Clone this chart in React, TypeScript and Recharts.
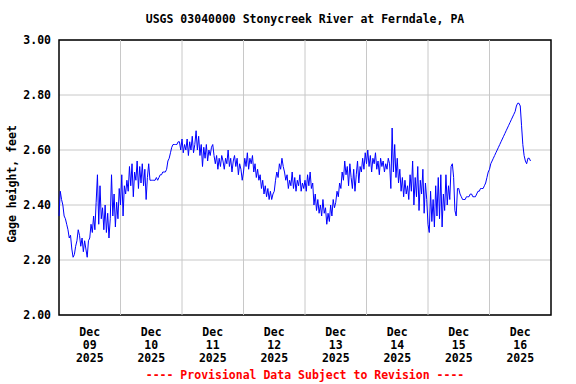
import { LineChart, Line, XAxis, YAxis, CartesianGrid, ReferenceLine, ReferenceArea } from 'recharts'

// gage height (ft), 30-minute readings starting Dec 09 00:00
const gage = [
  2.36, 2.45, 2.42, 2.40, 2.36, 2.35, 2.33, 2.31, 2.28, 2.29, 2.24, 2.21, 2.22, 2.25, 2.27, 2.31, 2.29, 2.25, 2.28, 2.23, 2.27, 2.24, 2.21, 2.27,
  2.28, 2.33, 2.30, 2.36, 2.31, 2.41, 2.51, 2.33, 2.47, 2.35, 2.39, 2.31, 2.40, 2.30, 2.37, 2.28, 2.35, 2.51, 2.36, 2.44, 2.32, 2.41, 2.35, 2.46,
  2.40, 2.51, 2.36, 2.47, 2.44, 2.49, 2.45, 2.54, 2.47, 2.55, 2.43, 2.52, 2.49, 2.56, 2.46, 2.54, 2.48, 2.55, 2.47, 2.53, 2.42, 2.50, 2.55, 2.49,
  2.49, 2.49, 2.49, 2.49, 2.50, 2.49, 2.50, 2.51, 2.51, 2.52, 2.52, 2.52, 2.53, 2.56, 2.57, 2.59, 2.61, 2.62, 2.62, 2.62, 2.62, 2.63, 2.63, 2.60,
  2.64, 2.59, 2.62, 2.60, 2.64, 2.58, 2.63, 2.60, 2.65, 2.59, 2.62, 2.67, 2.60, 2.65, 2.58, 2.62, 2.54, 2.61, 2.57, 2.62, 2.56, 2.60, 2.58, 2.61,
  2.62, 2.58, 2.55, 2.58, 2.53, 2.57, 2.54, 2.58, 2.56, 2.53, 2.57, 2.55, 2.60, 2.54, 2.57, 2.52, 2.56, 2.58, 2.54, 2.57, 2.51, 2.55, 2.53, 2.49,
  2.52, 2.57, 2.54, 2.59, 2.53, 2.57, 2.55, 2.58, 2.52, 2.55, 2.50, 2.53, 2.49, 2.51, 2.46, 2.49, 2.44, 2.47, 2.43, 2.46, 2.42, 2.45, 2.42, 2.44,
  2.45, 2.49, 2.52, 2.50, 2.55, 2.53, 2.57, 2.54, 2.52, 2.49, 2.51, 2.46, 2.49, 2.47, 2.52, 2.46, 2.50, 2.45, 2.49, 2.47, 2.51, 2.45, 2.48, 2.46,
  2.49, 2.45, 2.51, 2.47, 2.52, 2.46, 2.48, 2.40, 2.44, 2.38, 2.42, 2.37, 2.40, 2.36, 2.42, 2.37, 2.39, 2.33, 2.37, 2.34, 2.40, 2.36, 2.42, 2.39,
  2.41, 2.45, 2.43, 2.48, 2.46, 2.52, 2.49, 2.56, 2.51, 2.54, 2.47, 2.55, 2.50, 2.46, 2.53, 2.45, 2.51, 2.56, 2.48, 2.54, 2.52, 2.57, 2.53, 2.59,
  2.55, 2.60, 2.54, 2.58, 2.52, 2.57, 2.55, 2.59, 2.53, 2.56, 2.51, 2.57, 2.54, 2.56, 2.52, 2.55, 2.53, 2.57, 2.55, 2.46, 2.68, 2.52, 2.62, 2.50,
  2.57, 2.48, 2.53, 2.45, 2.50, 2.43, 2.49, 2.44, 2.47, 2.42, 2.51, 2.45, 2.56, 2.40, 2.50, 2.43, 2.54, 2.38, 2.49, 2.44, 2.53, 2.37, 2.48, 2.42,
  2.33, 2.30, 2.45, 2.34, 2.42, 2.32, 2.47, 2.36, 2.50, 2.35, 2.51, 2.32, 2.44, 2.38, 2.51, 2.40, 2.47, 2.42, 2.54, 2.55, 2.50, 2.38, 2.36, 2.46,
  2.46, 2.44, 2.43, 2.42, 2.42, 2.42, 2.43, 2.43, 2.43, 2.44, 2.44, 2.43, 2.43, 2.43, 2.44, 2.45, 2.45, 2.46, 2.46, 2.46, 2.47, 2.48, 2.50, 2.52,
  2.53, 2.55, 2.56, 2.57, 2.58, 2.59, 2.60, 2.61, 2.62, 2.63, 2.64, 2.65, 2.66, 2.67, 2.68, 2.69, 2.70, 2.71, 2.72, 2.73, 2.74, 2.76, 2.77, 2.77,
  2.76, 2.69, 2.62, 2.58, 2.56, 2.55, 2.57, 2.57, 2.56,
]

const tickDays = ['09', '10', '11', '12', '13', '14', '15', '16']
const tickMonth = 'Dec'
const tickYear = '2025'
const yTicks = [2.0, 2.2, 2.4, 2.6, 2.8, 3.0]
const dayLines = [1, 2, 3, 4, 5, 6, 7]

const data = gage.map((v, i) => ({ t: i / 48, v }))
const labelTicks = tickDays.map((_, i) => i + 0.5)

const FONT = '"DejaVu Sans Mono", monospace'

function DayTick({ x, y, payload }: any) {
  const day = tickDays[Math.floor(payload.value)]
  return (
    <text x={x} y={y} textAnchor="middle" fontFamily={FONT} fontSize={11.5} fontWeight="bold" fill="#000">
      <tspan x={x} dy={13}>{tickMonth}</tspan>
      <tspan x={x} dy={13}>{day}</tspan>
      <tspan x={x} dy={13}>{tickYear}</tspan>
    </text>
  )
}

const txt: React.CSSProperties = {
  position: 'absolute', fontFamily: FONT, fontSize: 11.5, fontWeight: 'bold',
  lineHeight: '14px', whiteSpace: 'nowrap',
}

export default function App() {
  return (
    <div style={{ position: 'absolute', left: 0, top: 0, width: 576, height: 384, background: '#fff' }}>
      <LineChart width={576} height={384} data={data} margin={{ top: 40, right: 25, bottom: 0, left: 0 }}>
        <CartesianGrid vertical={false} stroke="#c8c8c8" strokeDasharray="" />
        {dayLines.map(d => (
          <ReferenceLine key={d} x={d} stroke="#c8c8c8" />
        ))}
        <XAxis dataKey="t" type="number" domain={[0, 8]} ticks={labelTicks} tick={<DayTick />}
          tickLine={false} axisLine={false} height={69} interval={0} />
        <YAxis type="number" domain={[2, 3]} ticks={yTicks} width={59} tickLine={false} axisLine={false}
          tickFormatter={(v: number) => v.toFixed(2)}
          tick={{ fontFamily: FONT, fontSize: 11.5, fontWeight: 'bold', fill: '#000' }} />
        <ReferenceArea x1={0} x2={8} y1={2} y2={3} fill="none" stroke="#000" strokeWidth={1.5} />
        <Line type="linear" dataKey="v" stroke="#0000ff" strokeWidth={1} dot={false} isAnimationActive={false} />
      </LineChart>
      <div style={{ ...txt, left: 59, top: 12, width: 492, textAlign: 'center', color: '#000' }}>
        USGS 03040000 Stonycreek River at Ferndale, PA
      </div>
      <div style={{ ...txt, left: -88, top: 177, width: 200, textAlign: 'center', color: '#000', transform: 'rotate(-90deg)' }}>
        Gage height, feet
      </div>
      <div style={{ ...txt, left: 59, top: 368, width: 492, textAlign: 'center', color: '#ff0000' }}>
        ---- Provisional Data Subject to Revision ----
      </div>
    </div>
  )
}
